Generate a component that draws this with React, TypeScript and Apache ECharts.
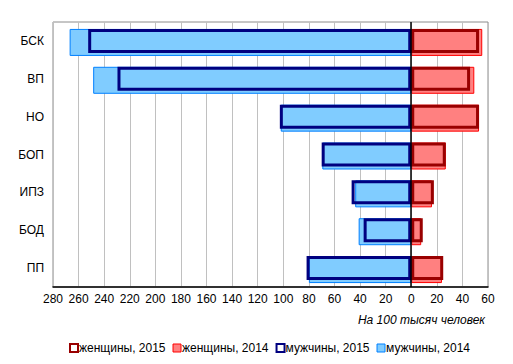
import React, { useEffect, useRef } from "react";
import * as echarts from "echarts";

const categories = ["БСК", "ВП", "НО", "БОП", "ИПЗ", "БОД", "ПП"];
const women2015 = [53, 46, 53, 27, 17.7, 9, 25];
const women2014 = [55.5, 49.3, 53, 27, 16.2, 7.8, 24];
const men2015 = [252.5, 229.6, 102.7, 70, 46.6, 37.2, 81.8];
const men2014 = [267, 248.6, 102, 69.5, 43.8, 41.1, 80];
const legendNames = ["женщины, 2015", "женщины, 2014", "мужчины, 2015", "мужчины, 2014"];
const unitLabel = "На 100 тысяч человек";

const FONT = "Arial, 'Liberation Sans', sans-serif";

export default function App() {
  const ref = useRef<HTMLDivElement>(null);
  useEffect(() => {
    if (!ref.current) return;
    const chart = echarts.init(ref.current, null, { renderer: "svg" });
    const neg = (a: number[]) => a.map((v) => -v);
    chart.setOption({
      animation: false,
      textStyle: { fontFamily: FONT },
      grid: {
        left: 53,
        right: 25,
        top: 22,
        bottom: 77,
        show: true,
        borderColor: "#8c8c8c",
        borderWidth: 1,
        containLabel: false,
      },
      xAxis: {
        type: "value",
        min: -280,
        max: 60,
        interval: 20,
        axisLine: { show: true, onZero: false, lineStyle: { color: "#000", width: 1.5 } },
        axisTick: { show: false },
        splitLine: { show: true, lineStyle: { color: "#c0c0c0", width: 1 } },
        axisLabel: {
          color: "#000",
          fontSize: 12,
          fontFamily: FONT,
          margin: 6,
          formatter: (v: number) => String(Math.abs(v)),
        },
      },
      yAxis: {
        type: "category",
        data: categories,
        inverse: true,
        axisLine: { show: false },
        axisTick: { show: false },
        axisLabel: { color: "#000", fontSize: 12, fontFamily: FONT, margin: 9 },
      },
      legend: {
        top: 337,
        left: 64,
        width: 445,
        itemWidth: 8,
        itemHeight: 8,
        itemGap: 7,
        textStyle: { fontSize: 12, color: "#000", fontFamily: FONT, padding: [0, 0, 0, -4] },
        data: [
          { name: legendNames[0], icon: "rect", itemStyle: { color: "#fff", borderColor: "#990000", borderWidth: 2 } },
          { name: legendNames[1], icon: "rect", itemStyle: { color: "#ff8080", borderColor: "#ff0000", borderWidth: 1 } },
          { name: legendNames[2], icon: "rect", itemStyle: { color: "#fff", borderColor: "#000080", borderWidth: 2 } },
          { name: legendNames[3], icon: "rect", itemStyle: { color: "#80ccff", borderColor: "#0080ff", borderWidth: 1 } },
        ],
      },
      graphic: [
        {
          type: "text",
          right: 28,
          top: 314,
          style: {
            text: unitLabel,
            fontSize: 12,
            fontStyle: "italic",
            fontFamily: FONT,
            fill: "#000",
          },
        },
      ],
      series: [
        {
          name: legendNames[1],
          type: "bar",
          data: women2014,
          barWidth: 27,
          barGap: "-100%",
          itemStyle: { color: "#ff8080", borderColor: "#ff0000", borderWidth: 1 },
        },
        {
          name: legendNames[3],
          type: "bar",
          data: neg(men2014),
          barWidth: 27,
          barGap: "-100%",
          itemStyle: { color: "#80ccff", borderColor: "#0080ff", borderWidth: 1 },
        },
        {
          name: legendNames[0],
          type: "bar",
          data: women2015,
          barWidth: 24,
          barGap: "-100%",
          itemStyle: { color: "rgba(0,0,0,0)", borderColor: "#990000", borderWidth: 3 },
        },
        {
          name: legendNames[2],
          type: "bar",
          data: neg(men2015),
          barWidth: 24,
          barGap: "-100%",
          itemStyle: { color: "rgba(0,0,0,0)", borderColor: "#000080", borderWidth: 3 },
          markLine: {
            silent: true,
            symbol: "none",
            label: { show: false },
            lineStyle: { color: "#000", type: "solid", width: 1.5 },
            data: [{ xAxis: 0 }],
            z: 10,
          },
        },
      ],
    });
    return () => chart.dispose();
  }, []);
  return (
    <div
      ref={ref}
      style={{ position: "fixed", left: 0, top: 0, width: 513, height: 364, background: "#fff" }}
    />
  );
}
